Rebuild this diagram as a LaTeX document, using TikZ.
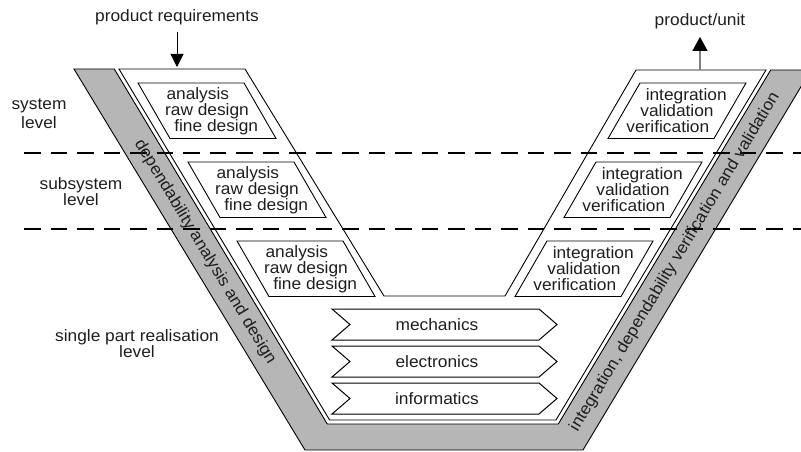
\documentclass[tikz,border=0pt]{standalone}
\usepackage{fontspec}
\setmainfont{Liberation Sans}[FakeStretch=1.05]
\usetikzlibrary{arrows.meta}
\definecolor{bandgray}{RGB}{182,182,182}
\definecolor{ink}{RGB}{30,30,30}
\newcommand\lbox[4]{% TLx, TLy, name, kind
  \begin{scope}[shift={(#1,#2)}]
    \path[boxline] (0,0) -- (106,0) -- (138,55.5) -- (32,55.5) -- cycle;
    \node[lbl] (#3) at (69,27.75) {\mbox{analysis\kern18.4pt}\\raw design\\\mbox{\kern18.4pt fine design}};
  \end{scope}}
\newcommand\rbox[3]{% TLx, TLy, name
  \begin{scope}[shift={(#1,#2)}]
    \path[boxline] (0,0) -- (106,0) -- (74,55.5) -- (-32,55.5) -- cycle;
    \node[lbl] (#3) at (37,27.75) {\mbox{\kern18.4pt integration}\\validation\\\mbox{verification\kern18.4pt}};
  \end{scope}}
\newcommand\chev[3]{% top y, name, text
  \path[chevline] (332,#1) -- (539,#1) -- (557,#1+15.5) -- (539,#1+31) -- (332,#1+31) -- (350,#1+15.5) -- cycle;
  \node[lbl] (#2) at (437,#1+15.5) {#3};}
\begin{document}
\begin{tikzpicture}[x=1pt,y=-1pt,
  lbl/.style={font=\fontsize{16.5}{16}\selectfont, inner sep=0pt, align=center, text=ink},
  boxline/.style={draw=black, line width=0.9pt, fill=white, line join=miter},
  chevline/.style={draw=black, line width=1pt, fill=white, line join=miter},
  vshape/.style={draw=black, line width=0.9pt, line join=miter},
  levelline/.style={draw=black, line width=1.3pt, dash pattern=on 16.5pt off 10pt}]
\useasboundingbox (0,0) rectangle (801,452);
\fill[white] (0,0) rectangle (801,452);
\clip (0,0) rectangle (801,452);
% gray band
\path[vshape, fill=bandgray] (74,69) -- (305,450) -- (583,450) -- (811,70) -- (770.7,70)
  -- (558.3,424) -- (327.3,424) -- (114.3,69) -- cycle;
% white V
\path[vshape, fill=white] (119,69) -- (245,69) -- (384,296) -- (505,296) -- (636,70)
  -- (766,70) -- (556,420) -- (329.6,420) -- cycle;
% level separators
\draw[levelline] (24,153) -- (801,153);
\draw[levelline] (24,229) -- (801,229);
% design boxes
\lbox{138}{83}{ad1}{}
\lbox{188}{162}{ad2}{}
\lbox{237}{241}{ad3}{}
\rbox{640}{83}{iv1}
\rbox{596}{162}{iv2}
\rbox{547}{241}{iv3}
% chevrons
\chev{309}{mech}{mechanics}
\chev{346}{elec}{electronics}
\chev{383}{info}{informatics}
% band texts
\node[lbl, rotate=-58.9] (dad) at (205,252) {dependability analysis and design};
\node[lbl, rotate=59.0] (idv) at (675,262) {integration, dependability verification and validation};
% level labels
\node[lbl, font=\fontsize{16.5}{19}\selectfont] (sys) at (39,114) {system\\level};
\node[lbl] (sub) at (81,192) {subsystem\\level};
\node[lbl] (spr) at (137,344) {single part realisation\\level};
% input / output
\node[lbl] (req) at (177,17) {product requirements};
\coordinate (reqtip) at (177,67);
\draw[line width=1pt, -{Triangle[width=13pt,length=13pt]}] ([yshift=-7pt]req.south) -- (reqtip);
\node[lbl] (unit) at (700,21) {product/unit};
\coordinate (unitbase) at (700,70);
\draw[line width=1.2pt, draw=gray, -{Triangle[width=15pt,length=14pt,color=black]}] (unitbase) -- ([yshift=-8pt]unit.south);
\end{tikzpicture}
\end{document}
